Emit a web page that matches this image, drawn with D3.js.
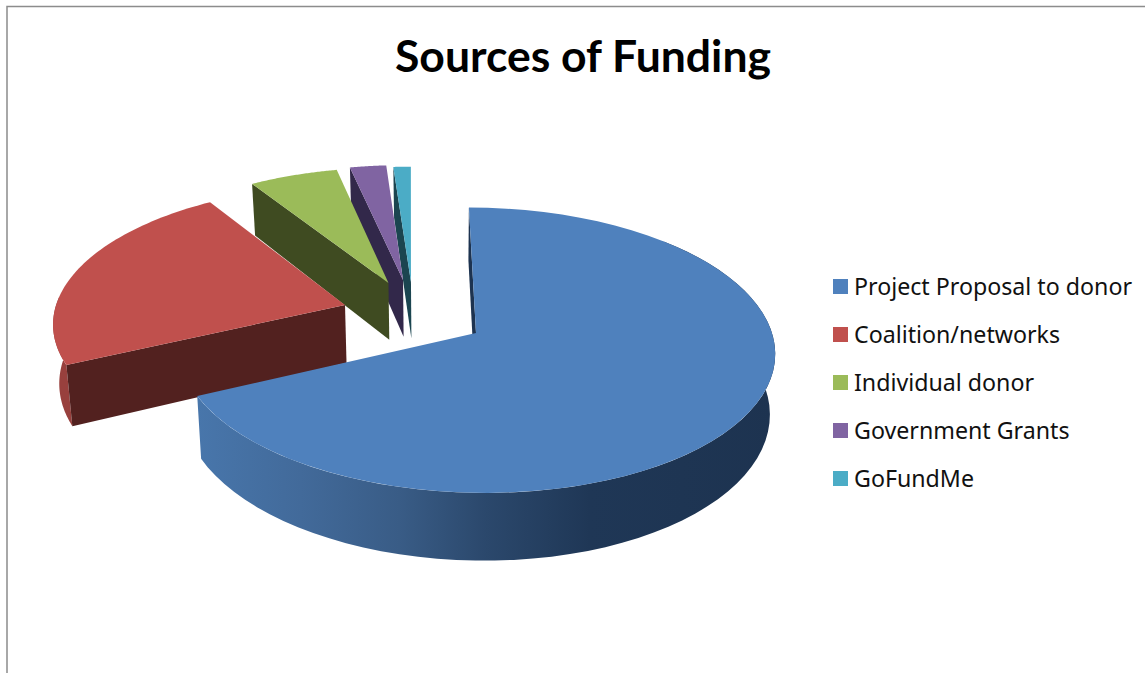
<!DOCTYPE html>
<html><head><meta charset="utf-8">
<script src="https://cdn.jsdelivr.net/npm/d3@7"></script>
<style>html,body{margin:0;padding:0;background:#fff}svg{display:block}</style>
</head><body><svg id="c" width="1145" height="673"></svg>
<script>
const categories = ["Project Proposal to donor","Coalition/networks","Individual donor","Government Grants","GoFundMe"];
const shares = [68, 23, 5.6, 2.3, 1.1];
const colors = ["#4f81bd","#c0504d","#9bbb59","#8064a2","#4bacc6"];
const cutColors = ["#1d3350","#52211f","#3f4b21","#32284a","#1b4550"];
const rimColors = [null,"#98403d","#5c6e33","#4a3a60","#2a6a7a"];
const chartTitle = "Sources of Funding";

// slice explosion (horizontal px / depth in radius units) and 3-D view
const explodeX = [66,-66.6,-22.5,-7.3,1];
const explodeZ = [0,-0.204,-0.372,-0.395,-0.38];
const view = {vx:410, cy:333, rx:296, ry:140.6, k:0.1207, nadirX:440, shrink:0.984};

const svg = d3.select("#c");
const defs = svg.append("defs");
const grad = defs.append("linearGradient").attr("id","blueWall")
  .attr("gradientUnits","userSpaceOnUse").attr("x1",197).attr("x2",775).attr("y1",0).attr("y2",0);
[[0,"#4876ab"],[0.18,"#426a9a"],[0.35,"#395c86"],[0.5,"#2b486c"],[0.68,"#1f3756"],[1,"#1d3350"]]
  .forEach(([o,c])=>grad.append("stop").attr("offset",o).attr("stop-color",c));

svg.append("path").attr("d","M7,673V6.5H1145").attr("fill","none").attr("stroke","#8c8c8c").attr("stroke-width",1.5);

svg.append("text").attr("x",583).attr("y",72).attr("text-anchor","middle")
  .attr("font-family","Lato, 'Liberation Sans', sans-serif").attr("font-weight",700).attr("font-size",44.5)
  .attr("fill","#000").text(chartTitle);

function topFace(X,Z){ const w=1-view.k*Z; return [view.vx+X/w, view.cy+view.ry*Z/w]; }
function bottomFace(p){ return [view.nadirX+(p[0]-view.nadirX)*view.shrink, p[1]+58+0.052*(p[1]-305)]; }

const arcs = d3.pie().sort(null).value(d=>d).startAngle(0).endAngle(2*Math.PI)(shares);
const line = d3.line().curve(d3.curveLinear);
const rim = (i,a)=>topFace(explodeX[i]+view.rx*Math.sin(a), explodeZ[i]-Math.cos(a));
const apex = i=>topFace(explodeX[i],explodeZ[i]);
const samples = (a0,a1)=>d3.range(0,61).map(t=>a0+(a1-a0)*t/60);

// back to front: last slices first
d3.range(arcs.length-1,-1,-1).forEach(i=>{
  const a=arcs[i], g=svg.append("g");
  // curved outer wall, only where it faces the viewer
  if(i===0||i===1){
    const as = i===0 ? samples(Math.PI/4,a.endAngle) : samples(a.startAngle,a.startAngle+0.5);
    const t=as.map(x=>rim(i,x)), b=as.map(x=>bottomFace(rim(i,x))).reverse();
    g.append("path").attr("d",line(t.concat(b))+"Z")
      .attr("fill", i===0?"url(#blueWall)":rimColors[i]);
  }
  // flat cut face at the leading angle
  const p=apex(i), q=rim(i,a.startAngle);
  g.append("path").attr("d",line([q,p,bottomFace(p),bottomFace(q)])+"Z").attr("fill",cutColors[i]);
  // top face
  const pts=[p].concat(samples(a.startAngle,a.endAngle).map(x=>rim(i,x)));
  g.append("path").attr("d",line(pts)+"Z").attr("fill",colors[i]);
});

// legend
const rows=d3.scalePoint().domain(categories).range([286.5,478.5]);
const lg=svg.append("g").selectAll("g").data(categories).join("g")
  .attr("transform",d=>`translate(833,${rows(d)})`);
lg.append("rect").attr("x",0).attr("y",-7.5).attr("width",15).attr("height",15)
  .attr("fill",(d,i)=>colors[i]);
lg.append("text").attr("x",21).attr("y",8.5).attr("font-family","'Noto Sans', sans-serif")
  .attr("font-size",23.2).attr("fill","#111").text(d=>d);
</script></body></html>
